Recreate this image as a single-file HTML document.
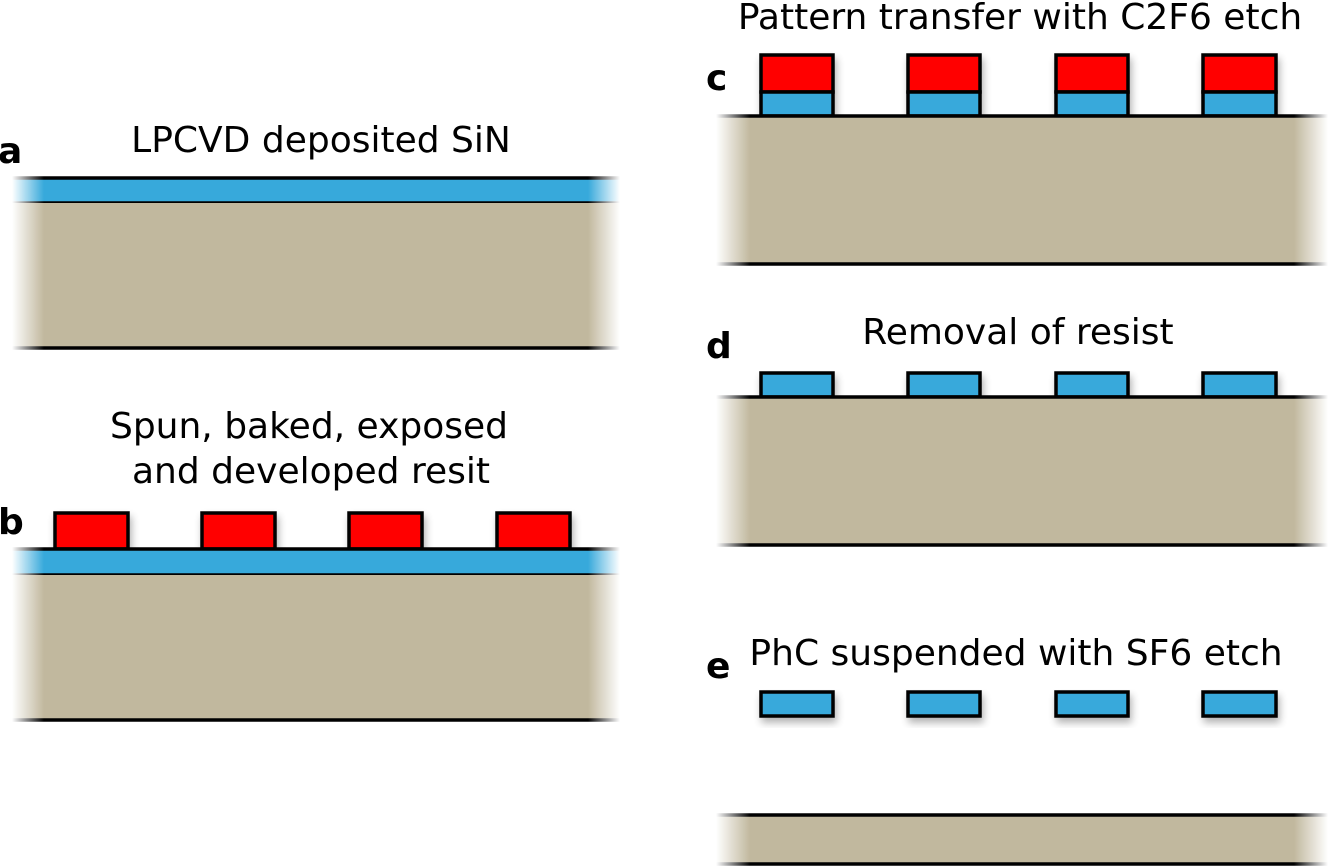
<!DOCTYPE html>
<html><head><style>body{margin:0;background:#fff}svg{display:block}</style></head>
<body>
<svg width="1328" height="867" viewBox="0 0 1328 867" xmlns="http://www.w3.org/2000/svg" font-family="DejaVu Sans, Liberation Sans, sans-serif">
<defs>
<linearGradient id="fl" x1="0" x2="1"><stop offset="0" stop-color="#fff" stop-opacity="1"/><stop offset="1" stop-color="#fff" stop-opacity="0"/></linearGradient>
<linearGradient id="fr" x1="0" x2="1"><stop offset="0" stop-color="#fff" stop-opacity="0"/><stop offset="1" stop-color="#fff" stop-opacity="1"/></linearGradient>
<filter id="sh" x="-30%" y="-30%" width="160%" height="180%"><feGaussianBlur in="SourceAlpha" stdDeviation="4"/><feOffset dy="5" dx="2"/><feComponentTransfer><feFuncA type="linear" slope="0.3"/></feComponentTransfer><feMerge><feMergeNode/><feMergeNode in="SourceGraphic"/></feMerge></filter>
</defs>
<g stroke="#000" stroke-width="3.5">
<rect x="0" y="178" width="640" height="25" fill="#37a9db"/>
<rect x="0" y="203" width="640" height="145" fill="#c1b89e" stroke="none"/>
<line x1="0" y1="348" x2="640" y2="348"/>
<g filter="url(#sh)" fill="#ff0000">
<rect x="55" y="513" width="73" height="36"/><rect x="202" y="513" width="73" height="36"/><rect x="349" y="513" width="73" height="36"/><rect x="497" y="513" width="73" height="36"/>
</g>
<rect x="0" y="549" width="640" height="26" fill="#37a9db"/>
<rect x="0" y="575" width="640" height="145" fill="#c1b89e" stroke="none"/>
<line x1="0" y1="720" x2="640" y2="720"/>
<g filter="url(#sh)">
<g fill="#ff0000"><rect x="761" y="55" width="72" height="37"/><rect x="908" y="55" width="72" height="37"/><rect x="1056" y="55" width="72" height="37"/><rect x="1203" y="55" width="73" height="37"/></g>
<g fill="#37a9db"><rect x="761" y="92" width="72" height="24"/><rect x="908" y="92" width="72" height="24"/><rect x="1056" y="92" width="72" height="24"/><rect x="1203" y="92" width="73" height="24"/></g>
</g>
<rect x="700" y="116" width="628" height="148" fill="#c1b89e" stroke="none"/>
<line x1="700" y1="116" x2="1328" y2="116"/><line x1="700" y1="264" x2="1328" y2="264"/>
<g filter="url(#sh)" fill="#37a9db"><rect x="761" y="373" width="72" height="24"/><rect x="908" y="373" width="72" height="24"/><rect x="1056" y="373" width="72" height="24"/><rect x="1203" y="373" width="73" height="24"/></g>
<rect x="700" y="397" width="628" height="148" fill="#c1b89e" stroke="none"/>
<line x1="700" y1="397" x2="1328" y2="397"/><line x1="700" y1="545" x2="1328" y2="545"/>
<g filter="url(#sh)" fill="#37a9db"><rect x="761" y="692" width="72" height="24"/><rect x="908" y="692" width="72" height="24"/><rect x="1056" y="692" width="72" height="24"/><rect x="1203" y="692" width="73" height="24"/></g>
<rect x="700" y="815" width="628" height="49" fill="#c1b89e" stroke="none"/>
<line x1="700" y1="815" x2="1328" y2="815"/><line x1="700" y1="864" x2="1328" y2="864"/>
</g>
<rect x="0" y="170" width="12" height="185" fill="#fff"/><rect x="12" y="170" width="32" height="185" fill="url(#fl)"/>
<rect x="588" y="170" width="32" height="185" fill="url(#fr)"/><rect x="620" y="170" width="30" height="185" fill="#fff"/>
<rect x="0" y="545" width="12" height="180" fill="#fff"/><rect x="12" y="545" width="32" height="180" fill="url(#fl)"/>
<rect x="588" y="545" width="32" height="180" fill="url(#fr)"/><rect x="620" y="545" width="30" height="180" fill="#fff"/>
<rect x="690" y="112" width="26" height="160" fill="#fff"/><rect x="716" y="112" width="34" height="160" fill="url(#fl)"/><rect x="1294" y="112" width="34" height="160" fill="url(#fr)"/>
<rect x="690" y="393" width="26" height="160" fill="#fff"/><rect x="716" y="393" width="34" height="160" fill="url(#fl)"/><rect x="1294" y="393" width="34" height="160" fill="url(#fr)"/>
<rect x="690" y="810" width="26" height="57" fill="#fff"/><rect x="716" y="810" width="34" height="57" fill="url(#fl)"/><rect x="1294" y="810" width="34" height="57" fill="url(#fr)"/>
<g font-size="36" fill="#000" text-anchor="middle">
<text x="321" y="152">LPCVD deposited SiN</text>
<text x="309" y="438">Spun, baked, exposed</text>
<text x="311" y="483">and developed resit</text>
<text x="1020" y="29">Pattern transfer with C2F6 etch</text>
<text x="1018" y="344">Removal of resist</text>
<text x="1016" y="665">PhC suspended with SF6 etch</text>
</g>
<g font-size="36" font-weight="bold" fill="#000">
<text x="-2" y="163">a</text>
<text x="-2" y="534">b</text>
<text x="706" y="90">c</text>
<text x="706" y="358">d</text>
<text x="706" y="678">e</text>
</g>
</svg>
</body></html>
